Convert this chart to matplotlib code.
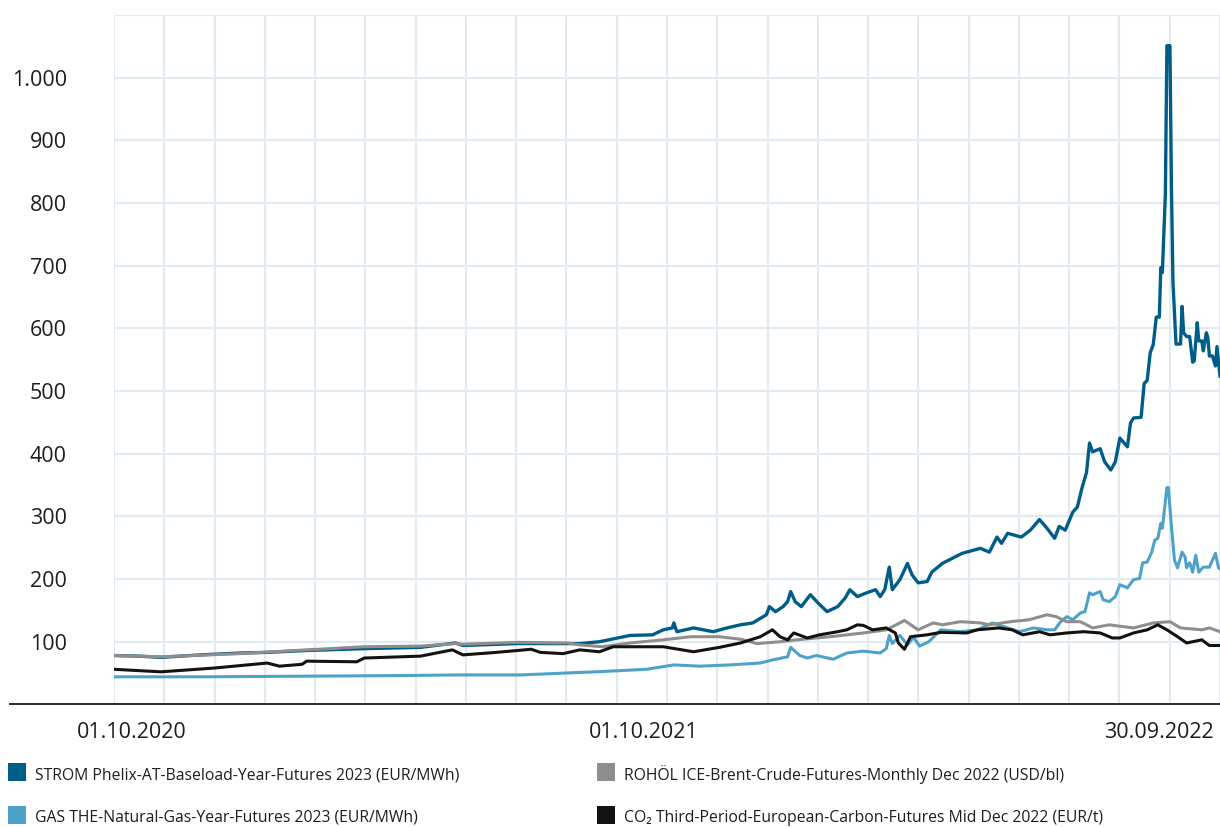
import pandas as pd
import matplotlib
matplotlib.use("Agg")
import matplotlib.pyplot as plt
from matplotlib.lines import Line2D
from matplotlib.patches import Rectangle

plt.rcParams['font.family'] = ['Open Sans', 'DejaVu Sans']

# start of the series and length of the window (days)
start = pd.Timestamp("2020-10-01")
span_days = 729

# STROM Phelix-AT-Baseload-Year-Futures 2023
strom_days = [0, 17, 31, 57, 83, 101, 127, 165, 202, 225, 230, 266, 299, 307, 320, 340, 355, 362,
              368, 369, 371, 382, 395, 404, 413, 421, 430, 432, 436, 441, 444, 446, 449, 453, 459,
              464, 470, 477, 482, 485, 490, 496, 502, 505, 508, 511, 513, 518, 523, 526, 530, 536,
              539, 546, 559, 571, 577, 582, 585, 589, 598, 604, 610, 615, 620, 623, 627, 632, 635,
              638, 641, 643, 645, 650, 653, 657, 660, 663, 668, 670, 672, 677, 678, 679, 681, 683,
              685, 687, 689, 690, 691, 693, 694, 696, 697, 698, 700, 703, 704, 705, 707, 709, 711,
              712, 714, 715, 717, 718, 720, 721, 722, 724, 726, 727, 729]
strom_vals = [78, 77, 75, 79, 82, 83, 86, 89, 91, 98, 94, 97, 97, 97, 100, 110, 111, 119,
              122, 130, 116, 122, 116, 122, 127, 130, 143, 156, 148, 156, 164, 180, 164, 156, 175,
              162, 148, 156, 170, 183, 172, 178, 183, 172, 183, 219, 183, 199, 225, 207, 194, 196,
              211, 225, 241, 249, 243, 267, 257, 273, 267, 278, 295, 281, 265, 284, 278, 307, 315,
              345, 370, 417, 403, 408, 387, 374, 387, 425, 411, 449, 457, 458, 485, 512, 517, 561,
              574, 618, 618, 697, 689, 815, 1051, 1051, 825, 673, 575, 575, 635, 593, 587, 587, 546,
              548, 609, 580, 580, 564, 593, 585, 556, 556, 540, 571, 524]

# GAS THE-Natural-Gas-Year-Futures 2023
gas_days = [0, 57, 123, 189, 225, 268, 307, 318, 351, 369, 386, 406, 426, 434, 444, 446, 452, 457,
            463, 474, 483, 494, 505, 509, 511, 513, 518, 523, 527, 531, 537, 545, 558, 569, 579,
            589, 597, 606, 615, 620, 624, 628, 632, 637, 640, 643, 645, 650, 652, 656, 660, 663,
            668, 672, 676, 678, 681, 684, 686, 688, 690, 691, 694, 695, 697, 699, 701, 704, 706,
            707, 709, 711, 713, 715, 718, 722, 726, 728, 729]
gas_vals = [44, 44, 45, 46, 47, 47, 51, 52, 56, 63, 61, 63, 66, 71, 76, 91, 78, 74,
            78, 72, 82, 85, 82, 89, 110, 97, 110, 95, 107, 93, 100, 119, 116, 119, 130,
            122, 116, 122, 119, 119, 132, 140, 135, 146, 148, 178, 175, 180, 167, 164, 172, 191,
            186, 199, 201, 226, 227, 243, 262, 265, 289, 281, 346, 346, 283, 230, 218, 243, 235,
            218, 226, 211, 238, 211, 219, 219, 241, 218, 216]

# ROHÖL ICE-Brent-Crude-Futures-Monthly Dec 2022
oil_days = [0, 31, 83, 127, 165, 202, 225, 230, 266, 299, 307, 322, 340, 362, 380, 399, 413, 424,
            439, 450, 472, 494, 509, 518, 521, 527, 530, 540, 546, 558, 571, 577, 591, 603, 615,
            621, 628, 637, 645, 656, 672, 685, 696, 703, 717, 722, 729]
oil_vals = [78, 76, 81, 87, 92, 93, 97, 96, 99, 98, 95, 92, 98, 103, 108, 108, 104, 97,
            100, 103, 108, 114, 119, 130, 134, 124, 119, 130, 127, 132, 130, 127, 132, 135, 143,
            140, 132, 132, 122, 127, 122, 130, 132, 122, 119, 122, 116]

# CO2 Third-Period-European-Carbon-Futures Mid Dec 2022
co2_days = [0, 31, 66, 101, 109, 124, 127, 160, 165, 202, 223, 230, 252, 275, 281, 296, 307, 320,
            329, 362, 382, 399, 413, 426, 434, 439, 444, 448, 457, 465, 477, 483, 490, 494, 500,
            509, 515, 517, 521, 525, 536, 545, 562, 569, 583, 592, 599, 610, 617, 628, 639, 650,
            658, 663, 672, 681, 688, 694, 701, 707, 717, 722, 729]
co2_vals = [56, 52, 58, 66, 61, 64, 69, 68, 74, 77, 87, 79, 83, 88, 83, 81, 87, 84,
            92, 92, 84, 91, 98, 108, 119, 108, 103, 114, 106, 111, 116, 119, 127, 126, 119,
            122, 114, 98, 88, 108, 111, 115, 114, 119, 122, 119, 111, 116, 111, 114, 116, 114,
            106, 106, 114, 119, 127, 119, 108, 98, 103, 94, 94]

series = [
    ("STROM Phelix-AT-Baseload-Year-Futures 2023 (EUR/MWh)", strom_days, strom_vals, "#005d87", 2.4),
    ("GAS THE-Natural-Gas-Year-Futures 2023 (EUR/MWh)", gas_days, gas_vals, "#4ea2c8", 2.2),
    ("ROHÖL ICE-Brent-Crude-Futures-Monthly Dec 2022 (USD/bl)", oil_days, oil_vals, "#8e8e8e", 2.2),
    ("CO\u2082 Third-Period-European-Carbon-Futures Mid Dec 2022 (EUR/t)", co2_days, co2_vals, "#141210", 2.2),
]

y_ticks = [100, 200, 300, 400, 500, 600, 700, 800, 900, 1000]
x_labels = ["01.10.2020", "01.10.2021", "30.09.2022"]
x_label_days = [12, 349, 689]


def to_dates(days):
    return start + pd.to_timedelta(days, unit="D")


W, H = 1220, 827
fig = plt.figure(figsize=(W / 100, H / 100), dpi=100)
ax = fig.add_axes([114 / W, 1 - 704.4 / H, (1220 - 114) / W, (704.4 - 15) / H])

# draw gas first so strom / oil / co2 sit on top, as in the original
for idx in [1, 2, 3, 0]:
    name, d, v, col, lw = series[idx]
    ax.plot(to_dates(d), v, color=col, lw=lw, solid_joinstyle="round", zorder=3 + idx * 0.1)

ax.set_xlim(start, start + pd.Timedelta(days=span_days))
ax.set_ylim(0, 1100)

# light grid
grid_col = "#e2ebf0"
for gx in pd.date_range(start, start + pd.Timedelta(days=span_days), periods=23):
    ax.axvline(gx, color=grid_col, lw=1.6, zorder=1)
for gy in y_ticks + [1100]:
    ax.axhline(gy, color=grid_col, lw=1.6, zorder=1)

ax.set_yticks(y_ticks)
ax.set_yticklabels([f"{t:,}".replace(",", ".") for t in y_ticks])
ax.set_xticks(to_dates(x_label_days))
ax.set_xticklabels(x_labels)
ax.tick_params(axis="both", length=0, labelsize=15.5, labelcolor="#1e1e1e")
ax.tick_params(axis="y", pad=34)
ax.tick_params(axis="x", pad=13)
for s in ax.spines.values():
    s.set_visible(False)

# bottom axis line runs past the plot to the left
fig.add_artist(Line2D([10 / W, 1.0], [1 - 704.4 / H, 1 - 704.4 / H],
                      color="#2a2a2a", lw=1.4, transform=fig.transFigure))

# legend, two columns
leg_pos = [(8, 772), (8, 815), (597, 772), (597, 815)]
for (name, d, v, col, lw), (lx, ly) in zip(series, leg_pos):
    fig.add_artist(Rectangle((lx / W, 1 - (ly + 9) / H), 18 / W, 18 / H,
                             facecolor=col, edgecolor="none", transform=fig.transFigure))
    fig.text((lx + 27) / W, 1 - (ly + 3) / H, name, fontsize=11.3, color="#1e1e1e",
             va="center", ha="left")

fig.savefig("out.png", dpi=100)
